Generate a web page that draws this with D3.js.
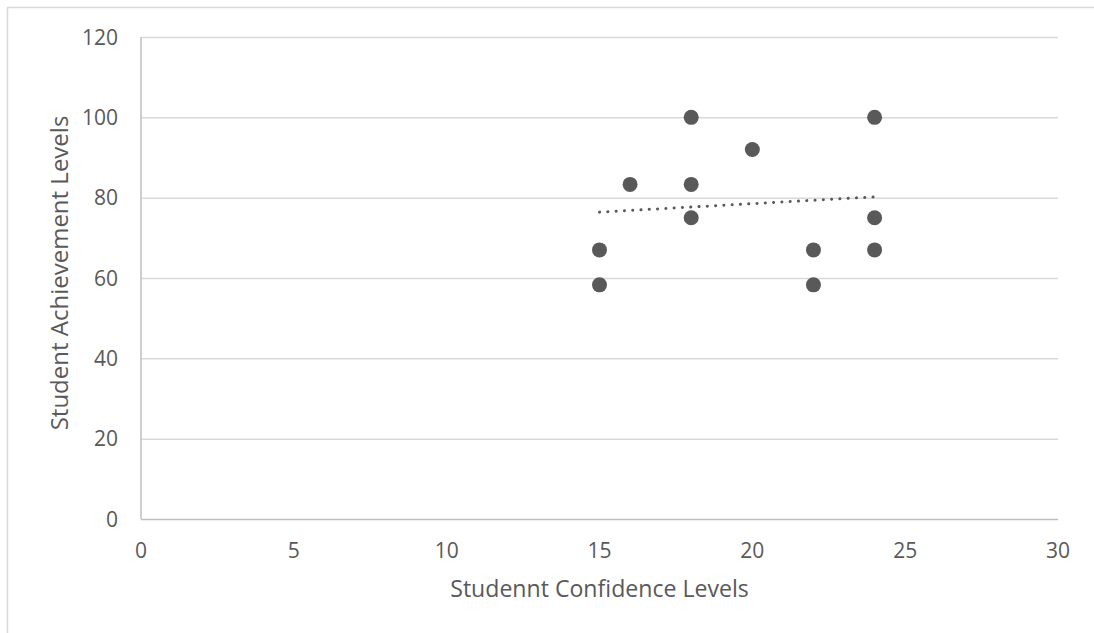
<!DOCTYPE html>
<html>
<head>
<meta charset="utf-8">
<script src="https://cdn.jsdelivr.net/npm/d3@7"></script>
<style>
  html, body { margin: 0; padding: 0; background: #fff; }
  svg { display: block; font-family: "Open Sans", sans-serif; }
</style>
</head>
<body>
<svg id="chart" width="1094" height="633"></svg>
<script>
// confidence level (x) and achievement level (y) for each student
const confidence = [15, 15, 16, 18, 18, 18, 20, 22, 22, 24, 24, 24]
const achievement = [67, 58.3, 83.3, 100, 83.3, 75, 92, 67, 58.3, 100, 75, 67]
// linear trendline endpoints as drawn in the chart
const trendX = [15, 24]
const trendY = [76.4, 80.2]
const xTicks = [0, 5, 10, 15, 20, 25, 30]
const yTicks = [0, 20, 40, 60, 80, 100, 120]

const width = 1094
const height = 633
const margin = {left: 141, right: 36, top: 37, bottom: 114}

const svg = d3.select("#chart")

// chart area border (only top and left edges are visible in the frame)
svg.append("rect")
  .attr("x", 7.5)
  .attr("y", 7.5)
  .attr("width", width)
  .attr("height", height)
  .attr("fill", "none")
  .attr("stroke", "#d9d9d9")
  .attr("stroke-width", 1.5)

const x = d3.scaleLinear().domain([0, 30]).range([margin.left, width - margin.right])
const y = d3.scaleLinear().domain([0, 120]).range([height - margin.bottom, margin.top])

// horizontal gridlines
svg.append("g")
  .selectAll("line")
  .data(yTicks.filter((d) => d > 0))
  .join("line")
  .attr("x1", x(0))
  .attr("x2", x(30))
  .attr("y1", (d) => y(d) + 0.5)
  .attr("y2", (d) => y(d) + 0.5)
  .attr("stroke", "#d9d9d9")
  .attr("stroke-width", 1.5)

// axis lines
svg.append("line")
  .attr("x1", x(0)).attr("x2", x(30))
  .attr("y1", y(0) + 0.5).attr("y2", y(0) + 0.5)
  .attr("stroke", "#bfbfbf").attr("stroke-width", 1.5)
svg.append("line")
  .attr("x1", x(0)).attr("x2", x(0))
  .attr("y1", y(0)).attr("y2", y(120))
  .attr("stroke", "#bfbfbf").attr("stroke-width", 1.5)

// tick labels
svg.append("g")
  .selectAll("text")
  .data(yTicks)
  .join("text")
  .attr("x", x(0) - 23)
  .attr("y", (d) => y(d) + 7.5)
  .attr("text-anchor", "end")
  .attr("font-size", 21)
  .attr("fill", "#595959")
  .text((d) => d)

svg.append("g")
  .selectAll("text")
  .data(xTicks)
  .join("text")
  .attr("x", (d) => x(d))
  .attr("y", y(0) + 39)
  .attr("text-anchor", "middle")
  .attr("font-size", 21)
  .attr("fill", "#595959")
  .text((d) => d)

// axis titles
svg.append("text")
  .attr("x", (x(0) + x(30)) / 2)
  .attr("y", 597)
  .attr("text-anchor", "middle")
  .attr("font-size", 23.1)
  .attr("fill", "#595959")
  .text("Studennt Confidence Levels")

svg.append("text")
  .attr("transform", `translate(68, ${(y(0) + y(120)) / 2 - 5}) rotate(-90)`)
  .attr("text-anchor", "middle")
  .attr("font-size", 24)
  .attr("fill", "#595959")
  .text("Student Achievement Levels")

// points
svg.append("g")
  .selectAll("circle")
  .data(confidence.map((c, i) => [c, achievement[i]]))
  .join("circle")
  .attr("cx", (d) => x(d[0]))
  .attr("cy", (d) => y(d[1]))
  .attr("r", 7.5)
  .attr("fill", "#595959")

// dotted trendline
svg.append("line")
  .attr("x1", x(trendX[0]))
  .attr("y1", y(trendY[0]))
  .attr("x2", x(trendX[1]))
  .attr("y2", y(trendY[1]))
  .attr("stroke", "#595959")
  .attr("stroke-width", 3)
  .attr("stroke-linecap", "round")
  .attr("stroke-dasharray", "0.1 8.2")
</script>
</body>
</html>
